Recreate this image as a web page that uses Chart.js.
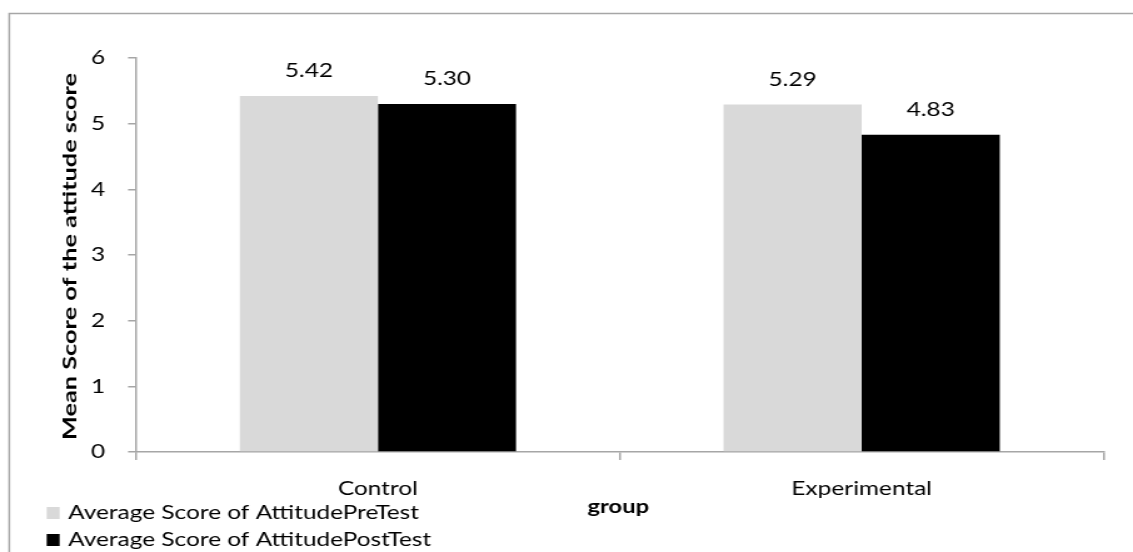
<!DOCTYPE html>
<html><head><meta charset="utf-8">
<script src="https://cdn.jsdelivr.net/npm/chart.js@4/dist/chart.umd.min.js"></script>
<style>
html,body{margin:0;padding:0;background:#fff;overflow:hidden;width:1133px;height:552px}
#wrap{width:906px;height:552px;transform:scaleX(1.2506);transform-origin:0 0}
</style>
</head><body><div id="wrap"><canvas id="c" width="906" height="552"></canvas></div>
<script>
const categories = ["Control", "Experimental"];
const preTest = [5.42, 5.29];
const postTest = [5.30, 4.83];
const seriesNames = ["Average Score of AttitudePreTest", "Average Score of AttitudePostTest"];
const yTicks = [0, 1, 2, 3, 4, 5, 6];
const yTitle = "Mean Score of the attitude score";
const xTitle = "group";

const FONT = "Lato, 'Open Sans', sans-serif";
const GREY = "#a6a6a6";

const extras = {
  id: "extras",
  afterDraw(chart) {
    const ctx = chart.ctx;
    const ca = chart.chartArea;
    ctx.save();
    // outer border
    ctx.strokeStyle = GREY; ctx.lineWidth = 1.5;
    ctx.strokeRect(7.4, 13.5, 1000, 600);
    // data labels
    ctx.fillStyle = "#000";
    ctx.font = "19.5px " + FONT;
    ctx.textAlign = "center"; ctx.textBaseline = "alphabetic";
    chart.data.datasets.forEach((ds, i) => {
      const meta = chart.getDatasetMeta(i);
      meta.data.forEach((bar, j) => {
        ctx.fillText(ds.data[j].toFixed(2), bar.x, bar.y - 19);
      });
    });
    // y title
    ctx.font = "bold 15px " + FONT;
    ctx.textBaseline = "middle";
    ctx.save();
    ctx.translate(56.4, (ca.top + ca.bottom) / 2 + 1.5);
    ctx.rotate(-Math.PI / 2);
    const w = ctx.measureText(yTitle).width;
    ctx.scale(367 / w, 1);
    ctx.fillText(yTitle, 0, 0);
    ctx.restore();
    // x title
    ctx.font = "bold 19px " + FONT;
    ctx.textBaseline = "alphabetic";
    ctx.fillText(xTitle, 494.4, 513);
    // legend
    ctx.font = "19.5px " + FONT;
    ctx.textAlign = "left";
    chart.data.datasets.forEach((ds, i) => {
      const base = 519 + i * 27;
      ctx.fillStyle = ds.backgroundColor;
      ctx.fillRect(37.3, base - 12, 10.4, 12);
      ctx.fillStyle = "#000";
      ctx.fillText(ds.label, 54.6, base);
    });
    ctx.restore();
  }
};

new Chart(document.getElementById("c"), {
  type: "bar",
  data: {
    labels: categories,
    datasets: [
      { label: seriesNames[0], data: preTest, backgroundColor: "#d9d9d9" },
      { label: seriesNames[1], data: postTest, backgroundColor: "#000000" }
    ]
  },
  options: {
    responsive: false,
    animation: false,
    layout: { padding: { left: 0, top: 58, right: 23.6, bottom: 0 } },
    plugins: { legend: { display: false }, tooltip: { enabled: false } },
    datasets: { bar: { barPercentage: 1, categoryPercentage: 0.571 } },
    scales: {
      x: {
        afterFit(s) { s.height = 100; },
        grid: { offset: true, drawOnChartArea: false, drawTicks: true, tickLength: 8, color: GREY, lineWidth: 1.5 },
        border: { color: GREY, width: 1.5 },
        ticks: { color: "#000", font: { family: FONT, size: 19.5 }, padding: 17 }
      },
      y: {
        min: 0, max: 6,
        afterFit(s) { s.width = 108.8; },
        afterBuildTicks(s) { s.ticks = yTicks.map(v => ({ value: v })); },
        grid: { drawOnChartArea: false, drawTicks: true, tickLength: 6.4, color: GREY, lineWidth: 1.5 },
        border: { color: GREY, width: 1.5 },
        ticks: { color: "#000", font: { family: FONT, size: 19.5 }, padding: 18.4 }
      }
    }
  },
  plugins: [extras]
});
</script></body></html>
